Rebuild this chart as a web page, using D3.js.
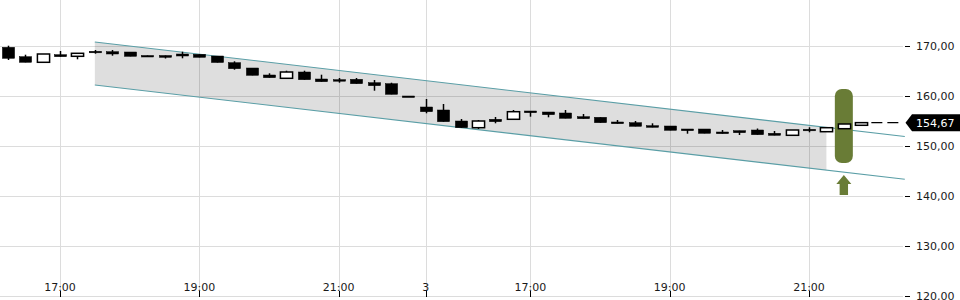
<!DOCTYPE html>
<html><head><meta charset="utf-8">
<script src="https://cdn.jsdelivr.net/npm/d3@7"></script>
<style>html,body{margin:0;padding:0;background:#fff;overflow:hidden}</style>
</head><body><svg id="c" width="960" height="300"></svg>
<script>
// 15-minute candles: day 1 16:15–22:00, day "3" 15:30–21:45
const times = ["16:15","16:30","16:45","17:00","17:15","17:30","17:45","18:00","18:15","18:30","18:45","19:00",
  "19:15","19:30","19:45","20:00","20:15","20:30","20:45","21:00","21:15","21:30","21:45","22:00",
  "15:30","15:45","16:00","16:15","16:30","16:45","17:00","17:15","17:30","17:45","18:00","18:15","18:30","18:45",
  "19:00","19:15","19:30","19:45","20:00","20:15","20:30","20:45","21:00","21:15","21:30","21:45"];
const open  = [169.74,167.86,166.74,168.26,167.94,168.94,168.86,168.80,168.10,168.10,168.40,168.34,
  168.00,166.66,165.60,164.20,163.54,164.80,163.40,163.26,163.34,162.66,162.46,160.00,
  157.80,157.20,155.00,153.66,155.34,155.34,157.00,156.80,156.60,155.86,155.74,154.80,154.66,154.06,
  154.00,153.40,153.40,152.80,153.06,153.20,152.54,152.14,153.34,152.86,153.46,154.14];
const high  = [170.06,168.26,168.40,169.00,168.54,169.20,169.20,168.80,168.10,168.10,168.86,168.34,
  168.00,166.94,165.60,164.54,165.06,165.06,164.26,163.60,163.60,163.20,162.66,160.00,
  159.40,158.40,155.40,155.20,155.80,157.20,157.00,156.80,157.20,156.40,155.74,155.20,155.00,154.54,
  154.00,153.40,153.40,153.20,153.06,153.50,153.00,153.20,153.74,153.66,154.40,154.80];
const low   = [167.20,166.74,166.74,167.86,167.34,168.46,168.06,167.94,167.80,167.50,167.54,167.74,
  166.70,165.26,164.14,163.66,163.54,163.26,162.86,162.66,162.46,161.06,160.34,159.90,
  156.54,154.86,153.66,153.40,154.54,155.34,155.86,155.74,155.54,155.46,154.66,154.46,153.94,153.74,
  153.14,152.46,152.54,152.46,152.20,152.26,152.14,152.14,152.74,152.86,153.46,154.14];
const close = [167.54,166.74,168.40,167.86,168.54,168.74,168.40,167.94,167.80,167.74,168.00,167.74,
  166.70,165.46,164.14,163.66,164.80,163.26,162.86,163.00,162.46,162.06,160.34,159.90,
  156.86,154.86,153.66,155.00,154.86,156.86,156.66,156.26,155.54,155.46,154.66,154.46,153.94,153.74,
  153.14,153.06,152.54,152.46,152.66,152.26,152.14,153.20,153.14,153.66,154.40,154.67];

const xTickIndex  = [3, 11, 19, 24, 30, 38, 46];
const xTickLabels = ["17:00","19:00","21:00","3","17:00","19:00","21:00"];
const yTicks = [120, 130, 140, 150, 160, 170];
const lastPrice = 154.67;

// trend channel
const channelIndex = [5, 51.5];
const channelUpper = [170.8, 151.9];
const channelLower = [162.2, 143.34];
const channelShadeEnd = 47;

// signal marker
const signalIndex = 48;
const signalRange = [146.6, 161.4];
const arrowRange  = [140.2, 144.2];

const W = 960, H = 300, plotRight = 903, plotBottom = 296;
const svg = d3.select("#c");
const font = "DejaVu Sans";

const x = d3.scaleLinear().domain([3, 46]).range([60, 809]);
const y = d3.scaleLinear().domain([120, 170]).range([296, 46]);
const step = x(1) - x(0);
const bodyW = step * 0.7;

const uAt = d3.scaleLinear().domain(channelIndex).range(channelUpper);
const lAt = d3.scaleLinear().domain(channelIndex).range(channelLower);

// grid
const grid = svg.append("g");
grid.selectAll("line.h").data(yTicks).join("line")
  .attr("x1", 0).attr("x2", plotRight)
  .attr("y1", d => Math.round(y(d)) + 0.5).attr("y2", d => Math.round(y(d)) + 0.5)
  .attr("stroke", "#dcdcdc").attr("stroke-width", 1);
grid.selectAll("line.v").data(xTickIndex).join("line")
  .attr("x1", d => Math.round(x(d)) + 0.5).attr("x2", d => Math.round(x(d)) + 0.5)
  .attr("y1", 0).attr("y2", plotBottom)
  .attr("stroke", "#dcdcdc").attr("stroke-width", 1);

// channel shade
const shadePts = [
  [x(channelIndex[0]), y(uAt(channelIndex[0]))],
  [x(channelShadeEnd), y(uAt(channelShadeEnd))],
  [x(channelShadeEnd), y(lAt(channelShadeEnd))],
  [x(channelIndex[0]), y(lAt(channelIndex[0]))]
];
svg.append("path").attr("d", d3.line()(shadePts) + "Z")
  .attr("fill", "#000").attr("fill-opacity", 0.13);

// channel lines
[[channelUpper, uAt], [channelLower, lAt]].forEach(([vals]) => {
  svg.append("line")
    .attr("x1", x(channelIndex[0])).attr("y1", y(vals[0]))
    .attr("x2", x(channelIndex[1])).attr("y2", y(vals[1]))
    .attr("stroke", "#5a9ea6").attr("stroke-width", 1.1);
});

// signal pill
svg.append("rect")
  .attr("x", x(signalIndex) - 9).attr("width", 18)
  .attr("y", y(signalRange[1])).attr("height", y(signalRange[0]) - y(signalRange[1]))
  .attr("rx", 7).attr("ry", 7)
  .attr("fill", "#697c36");

// arrow
{
  const cx = x(signalIndex), top = y(arrowRange[1]), bot = y(arrowRange[0]);
  const headH = 9, headW = 7.5, shaftW = 4.2;
  const pts = [[cx, top],[cx + headW, top + headH],[cx + shaftW, top + headH],[cx + shaftW, bot],
               [cx - shaftW, bot],[cx - shaftW, top + headH],[cx - headW, top + headH]];
  svg.append("path").attr("d", d3.line()(pts) + "Z").attr("fill", "#697c36");
}

// candles
const idx = d3.range(times.length);
const cg = svg.append("g");
cg.selectAll("line.w").data(idx).join("line")
  .attr("x1", i => Math.round(x(i)) + 0.5).attr("x2", i => Math.round(x(i)) + 0.5)
  .attr("y1", i => y(high[i])).attr("y2", i => y(low[i]))
  .attr("stroke", "#000").attr("stroke-width", 1.5);
cg.selectAll("rect").data(idx).join("rect")
  .attr("x", i => Math.round(x(i)) + 0.5 - bodyW / 2)
  .attr("width", bodyW)
  .attr("y", i => y(Math.max(open[i], close[i])))
  .attr("height", i => Math.max(1.5, Math.abs(y(open[i]) - y(close[i]))))
  .attr("fill", i => close[i] > open[i] ? "#fff" : "#000")
  .attr("stroke", "#000").attr("stroke-width", i => close[i] > open[i] ? 1.5 : 0.5);

// last price dashed line
const last = times.length - 1;
svg.append("line")
  .attr("x1", x(last) + bodyW / 2 + 4).attr("x2", plotRight)
  .attr("y1", y(lastPrice)).attr("y2", y(lastPrice))
  .attr("stroke", "#000").attr("stroke-width", 1.2).attr("stroke-dasharray", "11,5");

// y axis ticks & labels
const ya = svg.append("g");
ya.selectAll("line").data(yTicks).join("line")
  .attr("x1", 905).attr("x2", 910)
  .attr("y1", d => Math.round(y(d)) + 0.5).attr("y2", d => Math.round(y(d)) + 0.5)
  .attr("stroke", "#000").attr("stroke-width", 1);
ya.selectAll("text").data(yTicks).join("text")
  .attr("x", 916).attr("y", d => y(d))
  .attr("dy", "0.36em")
  .attr("font-family", font).attr("font-size", 11).attr("fill", "#1a1a1a")
  .text(d => d3.format(".2f")(d).replace(".", ","));

// last price tag
{
  const ly = y(lastPrice);
  const pts = [[905.5, ly],[912, ly - 8.5],[960, ly - 8.5],[960, ly + 8.5],[912, ly + 8.5]];
  svg.append("path").attr("d", d3.line()(pts) + "Z").attr("fill", "#000");
  svg.append("text").attr("x", 916).attr("y", ly).attr("dy", "0.36em")
    .attr("font-family", font).attr("font-size", 11).attr("fill", "#fff")
    .text(d3.format(".2f")(lastPrice).replace(".", ","));
}

// x axis ticks & labels
const xa = svg.append("g");
xa.selectAll("line").data(xTickIndex).join("line")
  .attr("x1", d => Math.round(x(d)) + 0.5).attr("x2", d => Math.round(x(d)) + 0.5)
  .attr("y1", 291).attr("y2", 297)
  .attr("stroke", "#000").attr("stroke-width", 1);
xa.selectAll("text").data(xTickIndex).join("text")
  .attr("x", d => x(d)).attr("y", 291)
  .attr("text-anchor", "middle")
  .attr("font-family", font).attr("font-size", 11).attr("fill", "#1a1a1a")
  .text((d, i) => xTickLabels[i]);
</script>
</body></html>
